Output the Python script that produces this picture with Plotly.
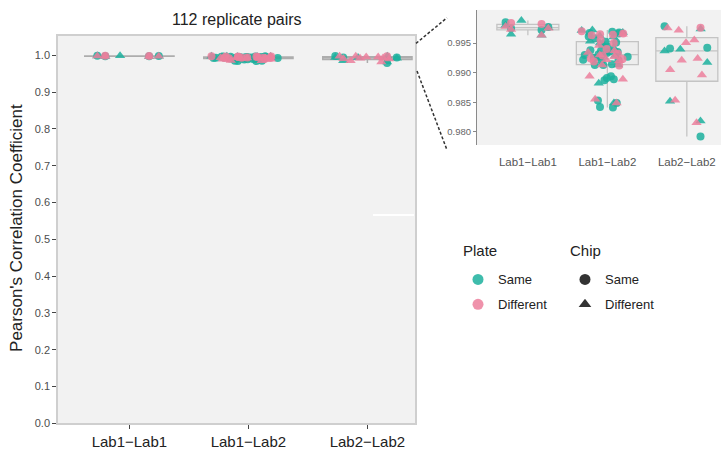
import plotly.graph_objects as go

W, H = 721, 454

groups = ["Lab1\u2212Lab1", "Lab1\u2212Lab2", "Lab2\u2212Lab2"]

# Pearson correlation per replicate pair; plate / chip: S = Same, D = Different
lab11_r = [0.9963, 0.9963, 0.9965, 0.9972, 0.9973, 0.9975, 0.9975, 0.9976,
           0.9977, 0.9978, 0.9980, 0.9982, 0.9984, 0.9985, 0.9988]
lab11_plate = ["D", "S", "S", "S", "D", "S", "D", "S", "S", "D", "S", "D", "D", "S", "S"]
lab11_chip = ["D", "D", "D", "S", "D", "S", "D", "D", "S", "D", "D", "S", "S", "S", "D"]

lab12_r = [0.9841, 0.9842, 0.9849, 0.9849, 0.9849, 0.9853, 0.9855, 0.9882,
           0.9887, 0.9889, 0.9889, 0.9891, 0.9894, 0.9894, 0.9912, 0.9913,
           0.9913, 0.9913, 0.9913, 0.9914, 0.9919, 0.9920, 0.9920, 0.9921,
           0.9922, 0.9922, 0.9923, 0.9924, 0.9924, 0.9925, 0.9926, 0.9927,
           0.9927, 0.9928, 0.9929, 0.9929, 0.9930, 0.9930, 0.9931, 0.9932,
           0.9933, 0.9933, 0.9934, 0.9935, 0.9936, 0.9937, 0.9937, 0.9938,
           0.9940, 0.9942, 0.9944, 0.9946, 0.9948, 0.9950, 0.9950, 0.9951,
           0.9952, 0.9953, 0.9955, 0.9958, 0.9960, 0.9961, 0.9962, 0.9963,
           0.9964, 0.9965, 0.9965, 0.9966, 0.9966, 0.9967, 0.9968, 0.9968,
           0.9969, 0.9970, 0.9971, 0.9972]
lab12_plate = ["S", "S", "S", "D", "S", "S", "D", "S", "S", "S", "D", "S", "D", "S", "D", "S",
               "D", "S", "S", "S", "D", "S", "D", "S", "D", "S", "D", "S", "D", "S", "S", "D",
               "S", "S", "D", "S", "S", "D", "S", "D", "S", "S", "D", "S", "S", "D", "S", "S",
               "D", "S", "S", "D", "S", "D", "S", "S", "S", "S", "D", "S", "S", "S", "S", "D",
               "D", "D", "D", "S", "D", "S", "S", "S", "S", "D", "S", "S"]
lab12_chip = ["S", "S", "S", "D", "D", "S", "D", "D", "S", "S", "D", "S", "D", "S", "S", "D",
              "D", "S", "S", "S", "S", "S", "D", "S", "D", "S", "S", "D", "S", "S", "D", "D",
              "S", "S", "S", "D", "S", "D", "S", "S", "S", "D", "D", "S", "S", "D", "S", "S",
              "S", "D", "S", "D", "S", "S", "D", "S", "S", "D", "S", "S", "D", "S", "D", "S",
              "S", "S", "D", "S", "S", "S", "S", "D", "S", "S", "D", "D"]

lab22_r = [0.97922, 0.98156, 0.98183, 0.98517, 0.98533, 0.98962, 0.99050,
           0.99172, 0.99211, 0.99239, 0.99367, 0.99394, 0.99406, 0.99422,
           0.99506, 0.99550, 0.99717, 0.99739, 0.99756, 0.99760, 0.99783]
lab22_plate = ["S", "D", "S", "S", "D", "D", "D", "S", "D", "D", "S", "S", "S", "S",
               "D", "D", "D", "S", "D", "D", "S"]
lab22_chip = ["S", "D", "D", "D", "D", "D", "D", "D", "D", "D", "D", "D", "S", "S",
              "D", "D", "D", "D", "D", "S", "S"]

values = [lab11_r, lab12_r, lab22_r]
plates = [lab11_plate, lab12_plate, lab22_plate]
chips = [lab11_chip, lab12_chip, lab22_chip]

main_yticks = [0.0, 0.1, 0.2, 0.3, 0.4, 0.5, 0.6, 0.7, 0.8, 0.9, 1.0]
inset_yticks = [0.980, 0.985, 0.990, 0.995]

TEAL = "#1CB09D"
PINK = "#EC7F9C"
plate_color = {"S": TEAL, "D": PINK}
chip_symbol = {"S": "circle", "D": "triangle-up"}
chip_size = {"S": 8, "D": 9}

FONT = "Liberation Sans, Arial, Helvetica, sans-serif"


def px(x):
    return x / W


def py(y):
    return 1 - y / H


fig = go.Figure()

panels = [
    dict(xa="x", ya="y", bw=0.75, jit=0.85, lc="#ADADAD", fc="#E6E6E6", lw=1.5),
    dict(xa="x2", ya="y2", bw=0.78, jit=0.85, lc="#C4C4C4", fc="#EDEDED", lw=1.3),
]

for p in panels:
    for gi in range(len(groups)):
        vals = values[gi]
        fig.add_trace(go.Box(
            x=[gi + 1] * len(vals), y=vals, xaxis=p["xa"], yaxis=p["ya"],
            boxpoints=False, width=p["bw"], whiskerwidth=0,
            line=dict(color=p["lc"], width=p["lw"]), fillcolor=p["fc"],
            showlegend=False, hoverinfo="skip"))
    for gi in range(len(groups)):
        for pl in ["S", "D"]:
            for ch in ["S", "D"]:
                ys = [v for v, a, b in zip(values[gi], plates[gi], chips[gi]) if a == pl and b == ch]
                if not ys:
                    continue
                fig.add_trace(go.Box(
                    x=[gi + 1] * len(ys), y=ys, xaxis=p["xa"], yaxis=p["ya"],
                    boxpoints="all", jitter=p["jit"], pointpos=0, width=p["bw"],
                    whiskerwidth=0, line=dict(width=0, color="rgba(0,0,0,0)"),
                    fillcolor="rgba(0,0,0,0)",
                    marker=dict(color=plate_color[pl], symbol=chip_symbol[ch],
                                size=chip_size[ch], opacity=0.85),
                    showlegend=False, hoverinfo="y"))

# legend entries
legend_labels = {"S": "Same", "D": "Different"}
for pl in ["S", "D"]:
    fig.add_trace(go.Scatter(
        x=[None], y=[None], mode="markers", name=legend_labels[pl],
        marker=dict(color=plate_color[pl], symbol="circle", size=11, opacity=0.85),
        legend="legend", legendgroup="plate" + pl, showlegend=True))
for ch in ["S", "D"]:
    fig.add_trace(go.Scatter(
        x=[None], y=[None], mode="markers", name=legend_labels[ch],
        marker=dict(color="#333333", symbol=chip_symbol[ch], size=11),
        legend="legend2", legendgroup="chip" + ch, showlegend=True))

legend_common = dict(xanchor="left", yanchor="top",
                     font=dict(family=FONT, size=13, color="#222222"),
                     bgcolor="rgba(0,0,0,0)", tracegroupgap=5, traceorder="grouped")

fig.update_layout(
    width=W, height=H,
    margin=dict(l=0, r=0, t=0, b=0),
    paper_bgcolor="white",
    plot_bgcolor="#F2F2F2",
    boxmode="overlay",
    font=dict(family=FONT, color="#222222"),
    xaxis=dict(domain=[px(58), px(415)], range=[0.4, 3.4],
               tickvals=[1, 2, 3], ticktext=groups,
               tickfont=dict(family=FONT, size=15, color="#222222"),
               ticks="outside", ticklen=4, tickcolor="#444444",
               showgrid=False, zeroline=False,
               showline=True, mirror=True, linecolor="#CFCFCF", linewidth=1.5),
    yaxis=dict(domain=[py(429), py(36)], range=[0, 1.0536],
               tickvals=main_yticks, tickformat=".1f",
               tickfont=dict(family=FONT, size=11, color="#4D4D4D"),
               ticks="outside", ticklen=4, tickcolor="#444444",
               showgrid=False, zeroline=False,
               showline=True, mirror=True, linecolor="#CFCFCF", linewidth=1.5),
    xaxis2=dict(domain=[px(477), 1.0], range=[0.36, 3.43], anchor="y2",
                tickvals=[1, 2, 3], ticktext=groups,
                tickfont=dict(family=FONT, size=11.5, color="#555555"),
                ticks="outside", ticklen=6, tickcolor="rgba(0,0,0,0)",
                showgrid=False, zeroline=False, showline=False),
    yaxis2=dict(domain=[py(147), py(10)], range=[0.97778, 1.0006], anchor="x2",
                tickvals=inset_yticks, tickformat=".3f",
                tickfont=dict(family=FONT, size=9.5, color="#666666"),
                ticks="outside", ticklen=3, tickcolor="#888888",
                showgrid=False, zeroline=False,
                showline=True, linecolor="#8A8A8A", linewidth=1),
    legend=dict(x=px(458), y=py(268), **legend_common),
    legend2=dict(x=px(565), y=py(268), **legend_common),
    annotations=[
        dict(text="112 replicate pairs", x=px(237), y=py(20), xref="paper", yref="paper",
             showarrow=False, xanchor="center", yanchor="middle",
             font=dict(family=FONT, size=16, color="#222222")),
        dict(text="Pearson's Correlation Coefficient", x=px(17), y=py(231),
             xref="paper", yref="paper", showarrow=False, textangle=-90,
             xanchor="center", yanchor="middle",
             font=dict(family=FONT, size=17, color="#222222")),
        dict(text="Plate", x=px(461), y=py(254), xref="paper", yref="paper",
             showarrow=False, xanchor="left", yanchor="middle",
             font=dict(family=FONT, size=15, color="#222222")),
        dict(text="Chip", x=px(568), y=py(254), xref="paper", yref="paper",
             showarrow=False, xanchor="left", yanchor="middle",
             font=dict(family=FONT, size=15, color="#222222")),
    ],
    shapes=[
        dict(type="line", xref="paper", yref="paper", x0=px(416), y0=py(44),
             x1=px(447), y1=py(18), line=dict(color="#333333", width=1.5, dash="3px,2px")),
        dict(type="line", xref="paper", yref="paper", x0=px(417), y0=py(72),
             x1=px(447), y1=py(152), line=dict(color="#333333", width=1.5, dash="3px,2px")),
        dict(type="line", xref="paper", yref="paper", x0=px(373), y0=py(218),
             x1=px(414), y1=py(218), line=dict(color="white", width=2)),
    ],
)

fig.write_html("out.html")
